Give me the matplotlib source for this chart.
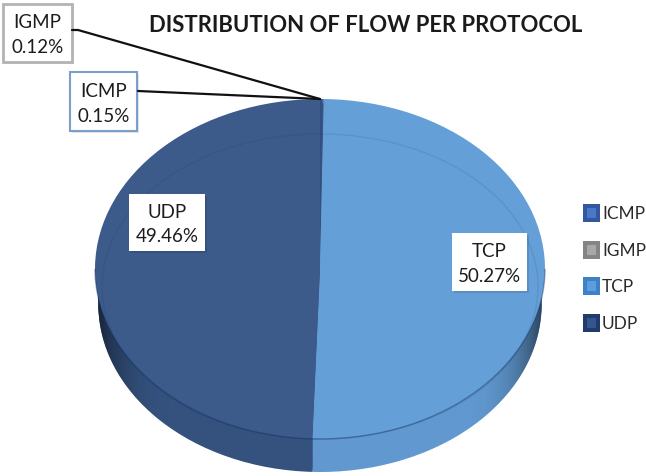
import numpy as np
import matplotlib
matplotlib.use('Agg')
import matplotlib.pyplot as plt
from matplotlib.patches import Rectangle, Ellipse, Arc

protocols = ['ICMP', 'IGMP', 'TCP', 'UDP']
shares = [0.15, 0.12, 50.27, 49.46]
top_colors = ['#2f4f86', '#3f5578', '#659fd8', '#3c5a8a']
side_colors = ['#2f4f86', '#3f5578', '#6098cf', '#35527f']
legend_colors = ['#34589f', '#858585', '#3f82c4', '#213b6c']
legend_inner = ['#4a78c8', '#a8a8a8', '#5c9ce2', '#34558e']

W, H = 646, 477
plt.rcParams['font.family'] = ['Lato', 'DejaVu Sans']
fig = plt.figure(figsize=(W / 100, H / 100), dpi=100, facecolor='white')

# ellipse of the pie top, in pixels
cx, cy, rx, ry, depth = 320, 270, 225, 170, 33
pad = 1.03
y_low = -1 - depth / ry - 0.03
y_high = 1.03
pie_ax = fig.add_axes([(cx - rx * pad) / W,
                       (H - cy + y_low * ry) / H,
                       2 * rx * pad / W,
                       (y_high - y_low) * ry / H])

# side of the disc: stacked copies of the pie going down, a bit narrower than the top
side_r = 0.985
side_off = (depth + ry * (1 - side_r)) / ry
for off in np.linspace(side_off, 0.01, 24):
    pie_ax.pie(shares, colors=side_colors, startangle=90, counterclock=False,
               center=(0, -off), radius=side_r)

# darker towards the left and right edges of the side
xs = np.linspace(-1, 1, 300)
shade = np.zeros((1, 300, 4))
shade[0, :, 3] = np.clip((np.abs(xs) - 0.6) / 0.4, 0, 1) ** 3 * 0.6
im = pie_ax.imshow(shade, extent=(-1, 1, y_low, 0), aspect='auto', zorder=3)
im.set_clip_path(Ellipse((0, -side_off), 2 * side_r, 2 * side_r, transform=pie_ax.transData))

wedges, _ = pie_ax.pie(shares, colors=top_colors, startangle=90, counterclock=False,
                       center=(0, 0), radius=1)
for w in wedges:
    w.set_zorder(4)

# rim lines on the top face
pie_ax.add_patch(Arc((0, 0), 2, 2, theta1=180, theta2=360, color='#12305f', alpha=0.4,
                     lw=1, zorder=5))
pie_ax.add_patch(Ellipse((0, -17.5 / ry), 2 * 218 / rx, 2 * 152.5 / ry, fill=False,
                         ec='#12305f', alpha=0.11, lw=1, zorder=5))
pie_ax.set_xlim(-pad, pad)
pie_ax.set_ylim(y_low, y_high)
pie_ax.set_aspect('auto')
pie_ax.axis('off')

# overlay in pixel coordinates for title, callouts and legend
ax = fig.add_axes([0, 0, 1, 1], facecolor='none')
ax.set_xlim(0, W)
ax.set_ylim(H, 0)
ax.axis('off')

ax.text(366, 26, 'DISTRIBUTION OF FLOW PER PROTOCOL', ha='center', va='center',
        fontsize=15.9, fontweight='bold', color='#1a1a1a')

# leader lines
ax.plot([72, 78, 320], [31, 31, 100], color='#111111', lw=1.6, solid_capstyle='round')
ax.plot([138, 320], [92, 100], color='#111111', lw=1.6, solid_capstyle='round')

boxes = {'IGMP': (3, 5, 69, 58, '#b3b3b3', 2.0),
         'ICMP': (70, 73, 67, 59, '#7c9ecd', 1.5),
         'UDP': (129, 195, 76, 57, 'white', 0),
         'TCP': (452, 234, 75, 58, 'white', 0)}
for name, share in zip(protocols, shares):
    x, y, w, h, edge, lw = boxes[name]
    ax.add_patch(Rectangle((x + 2, y + 2), w, h, fc='#000000', alpha=0.10, lw=0))
    ax.add_patch(Rectangle((x, y), w, h, fc='white', ec=edge, lw=lw))
    ax.text(x + w / 2, y + h * 0.31, name, ha='center', va='center', fontsize=13.5,
            color='#1c1c1c')
    ax.text(x + w / 2, y + h * 0.73, f'{share:.2f}%', ha='center', va='center', fontsize=13.5,
            color='#1c1c1c')

# legend
legend_y = [214, 251, 287, 324]
for name, col, inner, ly in zip(protocols, legend_colors, legend_inner, legend_y):
    ax.add_patch(Rectangle((583, ly - 9), 17, 18, fc=col, lw=0))
    ax.add_patch(Rectangle((587, ly - 5), 9, 10, fc=inner, lw=0))
    ax.text(602, ly, name, ha='left', va='center', fontsize=12.4, color='#2a2a2a')

fig.savefig('out.png', dpi=100, facecolor='white')
